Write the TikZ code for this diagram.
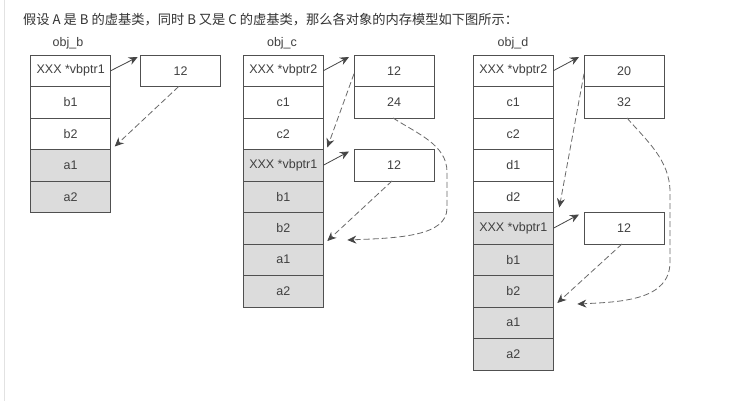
\documentclass[tikz,border=0pt]{standalone}
\usepackage{fontspec}
\setmainfont{Liberation Sans}
\newfontfamily\cjk{Noto Sans CJK SC}
\usetikzlibrary{arrows.meta}
\definecolor{linec}{HTML}{505050}
\definecolor{fillc}{HTML}{DCDCDC}
\definecolor{textc}{HTML}{404040}
\definecolor{headc}{HTML}{333333}
\definecolor{arrc}{HTML}{454545}
\definecolor{dashc}{HTML}{6A6A6A}
\definecolor{edgec}{HTML}{E2E2E2}
\tikzset{
  cell/.style={draw=linec, line width=0.9pt, minimum width=80pt, minimum height=31.5pt,
    inner sep=0pt, outer sep=0pt, anchor=north west, text=textc,
    font=\fontsize{12.5}{14}\selectfont},
  gcell/.style={cell, fill=fillc},
  lbl/.style={text=textc, font=\fontsize{12.5}{14}\selectfont, inner sep=0pt},
  ptr/.style={draw=arrc, line width=0.8pt, -{Stealth[length=9pt,width=8pt]}},
  dptr/.style={draw=dashc, line width=0.8pt, dash pattern=on 6pt off 3pt,
    -{Stealth[length=9pt,width=8pt,color=arrc]}}
}
\begin{document}
\begin{tikzpicture}[x=1pt,y=-1pt]
\fill[white] (0,0) rectangle (731,401);
\useasboundingbox (0,0) rectangle (731,401);
\draw[edgec, line width=1pt] (4,0) -- (4,401);
\node[anchor=base west, inner sep=0pt, text=headc, font=\cjk\fontsize{13.25}{15}\selectfont] (head) at (23,25)
  {假设 A 是 B 的虚基类，同时 B 又是 C 的虚基类，那么各对象的内存模型如下图所示：};
% ---------- obj_b ----------
\node[lbl] (lb) at (68,43) {obj\_b};
\node[cell]  (bv)  at (30.7,55)    {XXX *vbptr1};
\node[cell]  (bb1) at (30.7,86.5)  {b1};
\node[cell]  (bb2) at (30.7,118)   {b2};
\node[gcell] (ba1) at (30.7,149.5) {a1};
\node[gcell] (ba2) at (30.7,181)   {a2};
\node[cell]  (bt)  at (140.7,55)   {12};
\draw[ptr] (bv.east) -- ([shift={(-3pt,-2pt)}]bt.north west);
\draw[dptr] ([xshift=-2pt]bt.south) -- ([shift={(4pt,3pt)}]bb2.south east);
% ---------- obj_c ----------
\node[lbl] (lc) at (282,43) {obj\_c};
\node[cell]  (cv2) at (243.3,55)    {XXX *vbptr2};
\node[cell]  (cc1) at (243.3,86.5)  {c1};
\node[cell]  (cc2) at (243.3,118)   {c2};
\node[gcell] (cv1) at (243.3,149.5) {XXX *vbptr1};
\node[gcell] (cb1) at (243.3,181)   {b1};
\node[gcell] (cb2) at (243.3,212.5) {b2};
\node[gcell] (ca1) at (243.3,244)   {a1};
\node[gcell] (ca2) at (243.3,275.5) {a2};
\node[cell]  (ct1) at (354,55)      {12};
\node[cell]  (ct2) at (354,86.5)    {24};
\node[cell]  (ct3) at (354,149.5)   {12};
\draw[ptr] (cv2.east) -- ([shift={(-5pt,-2pt)}]ct1.north west);
\draw[dptr] ([yshift=-3pt]ct1.west) -- ([shift={(4pt,2pt)}]cc2.south east);
\draw[ptr] (cv1.east) -- ([shift={(-5pt,-2pt)}]ct3.north west);
\draw[dptr] ([xshift=-2pt]ct3.south) -- ([shift={(4pt,3pt)}]cb2.south east);
\coordinate (ctip) at ([shift={(24pt,4pt)}]cb2.south east);
\draw[dptr] ([xshift=-1pt]ct2.south) .. controls (418,134) and (447,145) .. (447,172)
  -- (447,208) .. controls (447,236) and (400,238) .. (ctip);
% ---------- obj_d ----------
\node[lbl] (ld) at (513,43) {obj\_d};
\node[cell]  (dv2) at (473.3,55)    {XXX *vbptr2};
\node[cell]  (dc1) at (473.3,86.5)  {c1};
\node[cell]  (dc2) at (473.3,118)   {c2};
\node[cell]  (dd1) at (473.3,149.5) {d1};
\node[cell]  (dd2) at (473.3,181)   {d2};
\node[gcell] (dv1) at (473.3,212.5) {XXX *vbptr1};
\node[gcell] (db1) at (473.3,244)   {b1};
\node[gcell] (db2) at (473.3,275.5) {b2};
\node[gcell] (da1) at (473.3,307)   {a1};
\node[gcell] (da2) at (473.3,338.5) {a2};
\node[cell]  (dt1) at (584,55)      {20};
\node[cell]  (dt2) at (584,86.5)    {32};
\node[cell]  (dt3) at (584,212.5)   {12};
\draw[ptr] (dv2.east) -- ([shift={(-5pt,-2pt)}]dt1.north west);
\draw[dptr] ([yshift=-3pt]dt1.west) -- ([shift={(6pt,5pt)}]dd2.south east);
\draw[ptr] (dv1.east) -- ([shift={(-5pt,-2pt)}]dt3.north west);
\draw[dptr] ([xshift=-2pt]dt3.south) -- ([shift={(4pt,4pt)}]db2.south east);
\coordinate (dtip) at ([shift={(24pt,3pt)}]db2.south east);
\draw[dptr] ([xshift=3pt]dt2.south) .. controls (646,140) and (670,160) .. (670,192)
  -- (670,262) .. controls (670,300) and (622,302) .. (dtip);
\end{tikzpicture}
\end{document}
